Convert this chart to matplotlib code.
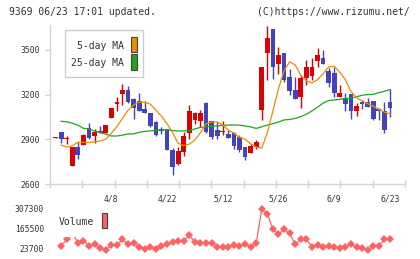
import numpy as np
import matplotlib
matplotlib.use("Agg")
import matplotlib.pyplot as plt
from matplotlib.patches import Rectangle

plt.rcParams['font.family'] = ['DejaVu Sans Mono', 'DejaVu Sans']

# daily candles, oldest first (last one is 6/23)
opens = [2910, 2949, 2900, 2723, 2848, 2862, 2974, 2921, 2955, 2940,
         3045, 3140, 3204, 3231, 3171, 3157, 3104, 3079, 3016, 2969,
         2967, 2828, 2734, 2817, 2944, 3030, 3025, 3146, 3021, 2963,
         2947, 2936, 2944, 2918, 2850, 2810, 2846, 3097, 3482, 3640,
         3404, 3480, 3319, 3231, 3187, 3309, 3328, 3428, 3446, 3360,
         3348, 3186, 3180, 3204, 3092, 3151, 3151, 3157, 3104, 3090, 3151]
highs = [2915, 2949, 2922, 2848, 2882, 2936, 3012, 2967, 2990, 2996,
         3110, 3182, 3272, 3258, 3175, 3209, 3157, 3079, 3025, 2981,
         2967, 2842, 2850, 2951, 3131, 3083, 3097, 3151, 3021, 3019,
         3021, 2963, 2951, 2929, 2850, 2868, 2895, 3388, 3660, 3640,
         3518, 3480, 3370, 3316, 3330, 3433, 3446, 3515, 3500, 3378,
         3388, 3265, 3209, 3204, 3142, 3164, 3180, 3157, 3113, 3151, 3236]
lows = [2910, 2873, 2867, 2723, 2770, 2862, 2905, 2873, 2944, 2940,
        3045, 3092, 3131, 3142, 3034, 3092, 3075, 2981, 2922, 2936,
        2830, 2662, 2728, 2788, 2900, 3005, 2985, 2940, 2900, 2900,
        2929, 2907, 2833, 2813, 2761, 2810, 2833, 3030, 3298, 3305,
        3339, 3287, 3194, 3171, 3113, 3265, 3298, 3383, 3404, 3248,
        3182, 3186, 3092, 3039, 3057, 3104, 3119, 3030, 3030, 2944, 3052]
closes = [2915, 2904, 2906, 2848, 2797, 2929, 2911, 2948, 2944, 2996,
          3110, 3150, 3231, 3151, 3108, 3092, 3075, 2992, 2929, 2958,
          2830, 2716, 2822, 2922, 3090, 3079, 3079, 2951, 2918, 2924,
          2958, 2909, 2855, 2828, 2779, 2855, 2882, 3388, 3583, 3383,
          3466, 3298, 3227, 3171, 3310, 3387, 3387, 3468, 3404, 3276,
          3209, 3213, 3139, 3092, 3124, 3139, 3119, 3037, 3090, 2963, 3110]

ma5 = [np.nan, 2862, 2848, 2856, 2880, 2880, 2880, 2882, 2889, 2900,
       2940, 2985, 3040, 3095, 3130, 3149, 3149, 3136, 3095, 3055,
       3005, 2945, 2873, 2858, 2868, 2895, 2945, 3005, 3016, 3017,
       2997, 2962, 2941, 2913, 2900, 2870, 2848, 2840, 2945, 3090,
       3240, 3360, 3420, 3399, 3330, 3293, 3278, 3300, 3340, 3385,
       3390, 3350, 3300, 3220, 3180, 3157, 3140, 3122, 3102, 3082, 3070]
ma25 = [np.nan, 3021, 3017, 3008, 2995, 2974, 2968, 2956, 2945, 2934,
        2922, 2922, 2928, 2936, 2936, 2947, 2953, 2956, 2960, 2963,
        2963, 2959, 2956, 2956, 2958, 2970, 2980, 2984, 2988, 2990,
        2993, 2996, 2996, 2995, 2990, 2983, 2973, 2984, 2995, 3005,
        3016, 3030, 3033, 3040, 3052, 3068, 3090, 3115, 3143, 3160,
        3164, 3168, 3173, 3176, 3185, 3196, 3200, 3202, 3213, 3222, 3234]

volume = [np.nan, 45000, 92000, 138000, 68400, 82600, 45000, 59150, 28700, 16600,
          52000, 52000, 92500, 57000, 64000, 40000, 23700, 35500, 21300, 47000,
          57000, 71000, 78000, 80400, 123000, 71000, 64000, 64000, 68400, 40000,
          40000, 40000, 49800, 45000, 57000, 40000, 64000, 305000, 272000, 163000,
          128000, 163000, 135000, 57000, 92500, 92500, 40000, 52000, 35500, 45000,
          40000, 33000, 40000, 57000, 35500, 28700, 16600, 45000, 45000, 92500, 92500]

date_pos = [10, 20, 30, 40, 50, 60]
date_labels = ["4/8", "4/22", "5/12", "5/26", "6/9", "6/23"]
price_ticks = [2600, 2900, 3200, 3500]
vol_ticks = [23700, 165500, 307300]

RED = "#dd0000"
BLUE = "#4343bd"
ORANGE = "#f08c00"
GREEN = "#1ea51e"
VOLC = "#ff6262"
AXC = "#d4d4d4"
TXT = "#333333"

W, H = 420, 259
fig = plt.figure(figsize=(W / 100, H / 100), dpi=100)
ax = fig.add_axes([50 / W, 1 - 184 / H, 355 / W, 159 / H])
axv = fig.add_axes([50 / W, 1 - 253 / H, 355 / W, 48 / H])

o = np.array(opens, float)
c = np.array(closes, float)
hi = np.array(highs, float)
lo = np.array(lows, float)
x = np.arange(len(o))
up = c >= o
cols = np.where(up, RED, BLUE)

# wicks, then bodies
ax.vlines(x, lo, hi, colors=cols, linewidth=1.0, zorder=2)
body = np.maximum(np.abs(c - o), 6)
ax.bar(x, body, bottom=np.minimum(o, c), width=0.85, color=cols, linewidth=0, zorder=3)

ax.plot(x, ma25, color=GREEN, linewidth=0.9, zorder=4)
ax.plot(x, ma5, color=ORANGE, linewidth=0.9, zorder=4)

xmin, xmax = -1.0, 62.7
ax.set_xlim(xmin, xmax)
ax.set_ylim(2600, 3667)

for s in ["top", "right"]:
    ax.spines[s].set_visible(False)
for s in ["left", "bottom"]:
    ax.spines[s].set_color(AXC)
    ax.spines[s].set_linewidth(1.0)

ax.set_xticks(np.linspace(xmin, xmax, 12))
ax.set_xticklabels([])
ax.set_xticks(date_pos, minor=True)
ax.set_xticklabels(date_labels, minor=True)
ax.tick_params(axis="x", which="major", direction="inout", length=6, width=1.0, color=AXC)
ax.tick_params(axis="x", which="minor", length=0, pad=7.5, labelsize=5.8, labelcolor=TXT)
ax.set_yticks(price_ticks)
ax.set_yticklabels([str(t) for t in price_ticks])
ax.tick_params(axis="y", length=3.6, width=1.0, color=AXC, pad=3.6, labelsize=5.8, labelcolor=TXT)

# legend box for moving averages
ax.add_patch(Rectangle((0.0423, 0.673), 0.2197, 0.2956, transform=ax.transAxes,
                       facecolor="white", edgecolor="#cccccc", linewidth=1.0, zorder=6, clip_on=False))
ax.text(0.2085, 0.868, "5-day MA", transform=ax.transAxes, ha="right", va="center",
        fontsize=7, color=TXT, zorder=7)
ax.text(0.2085, 0.761, "25-day MA", transform=ax.transAxes, ha="right", va="center",
        fontsize=7, color=TXT, zorder=7)
ax.add_patch(Rectangle((0.228, 0.830), 0.0169, 0.094, transform=ax.transAxes,
                       facecolor=ORANGE, edgecolor="#444444", linewidth=0.8, zorder=7))
ax.add_patch(Rectangle((0.228, 0.717), 0.0169, 0.100, transform=ax.transAxes,
                       facecolor=GREEN, edgecolor="#444444", linewidth=0.8, zorder=7))

# volume panel
axv.plot(x, volume, color=VOLC, linewidth=0.9, marker="D", markersize=4.4,
         markeredgewidth=0, zorder=2)
axv.set_xlim(xmin, xmax)
axv.set_ylim(-4660, 335660)
for s in axv.spines.values():
    s.set_visible(False)
axv.set_xticks([])
axv.set_yticks(vol_ticks)
axv.set_yticklabels([str(t) for t in vol_ticks])
axv.tick_params(axis="y", length=0, pad=4.3, labelsize=5.8, labelcolor=TXT)

axv.add_patch(Rectangle((0.014, 0.327), 0.155, 0.7, transform=axv.transAxes,
                        facecolor="white", edgecolor="none", zorder=5, clip_on=False))
axv.text(0.0254, 0.646, "Volume", transform=axv.transAxes, ha="left", va="center",
         fontsize=7, color=TXT, zorder=6)
axv.add_patch(Rectangle((0.1465, 0.521), 0.0141, 0.3125, transform=axv.transAxes,
                        facecolor=VOLC, edgecolor="#444444", linewidth=0.8, zorder=6))

fig.text(9 / W, 1 - 12 / H, "9369 06/23 17:01 updated.", ha="left", va="center",
         fontsize=7, color=TXT)
fig.text(410 / W, 1 - 12 / H, "(C)https://www.rizumu.net/", ha="right", va="center",
         fontsize=7, color=TXT)

fig.savefig("out.png", dpi=100)
